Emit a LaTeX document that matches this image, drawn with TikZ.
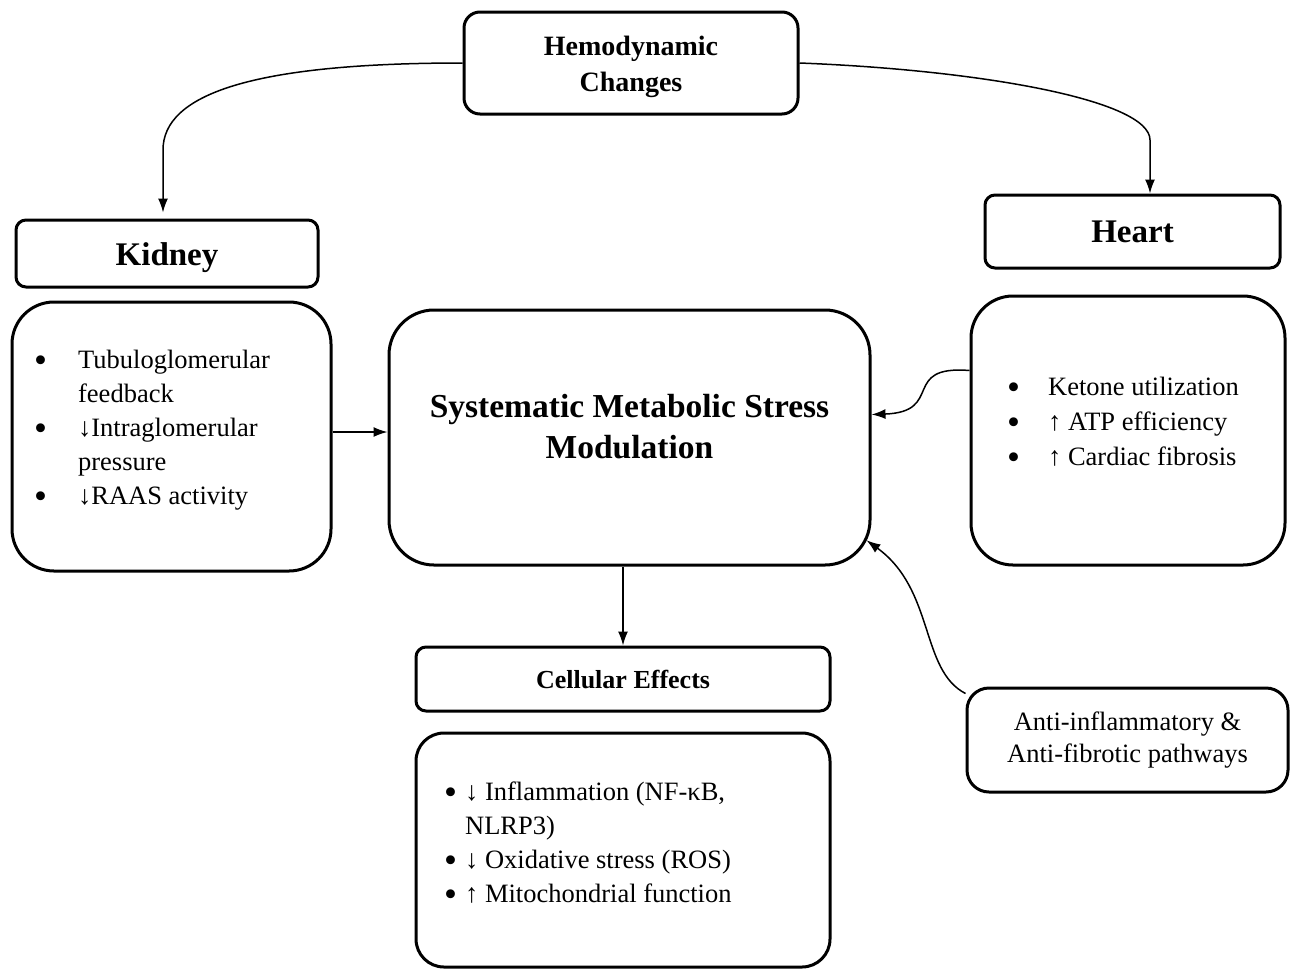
\documentclass[tikz,border=0pt]{standalone}
\usepackage{fontspec}
\setmainfont{Liberation Serif}
\usetikzlibrary{arrows.meta, positioning}
\tikzset{
  headbox/.style={draw, line width=3pt, rounded corners=10pt, align=center, inner sep=0pt},
  listbox/.style={draw, line width=3pt, rounded corners=42pt},
  flow/.style={-{Latex[length=14pt,width=10pt]}, line width=1.5pt},
  itemtxt/.style={anchor=base west, inner sep=0pt},
}
\newcommand{\bull}{\raisebox{-4pt}{\fontsize{37}{34}\selectfont•}}

\begin{document}
\begin{tikzpicture}[x=1pt,y=-1pt]
\useasboundingbox (0,0) rectangle (1290,970);
\node[headbox, rounded corners=16pt, minimum width=334pt, minimum height=102pt, text height=63pt, text depth=6pt, font=\bfseries\fontsize{28}{36}\selectfont] (hemo) at (631,63) {Hemodynamic\\Changes};
\node[headbox, minimum width=302pt, minimum height=67pt, text height=31pt, text depth=7pt, font=\bfseries\fontsize{33}{40}\selectfont] (kidney) at (167,253.5) {Kidney};
\node[headbox, minimum width=295pt, minimum height=73pt, font=\bfseries\fontsize{33}{40}\selectfont] (heart) at (1132.5,231.5) {Heart};
\node[listbox, minimum width=319pt, minimum height=269pt] (klist) at (171.5,436.5) {};
\node[listbox, rounded corners=45pt, minimum width=481pt, minimum height=255pt] (mid) at (629.5,437.5) {};
\node[listbox, minimum width=314pt, minimum height=269pt] (hlist) at (1128,430.5) {};
\node[headbox, minimum width=414pt, minimum height=64pt, font=\bfseries\fontsize{26}{30}\selectfont] (cell) at (623,679) {Cellular Effects};
\node[listbox, rounded corners=28pt, minimum width=414pt, minimum height=234pt] (clist) at (623,850) {};
\node[headbox, rounded corners=22pt, minimum width=321pt, minimum height=104pt, font=\fontsize{26.5}{32}\selectfont] (anti) at (1127.5,740) {Anti-inflammatory \&\\Anti-fibrotic pathways};

\node[itemtxt, font=\fontsize{26.5}{34}\selectfont] (ktxt) at (34,368) {\begin{tabular}[t]{@{}l@{\hspace{31pt}}l@{}}
\bull&Tubuloglomerular\\&feedback\\\bull&↓Intraglomerular\\&pressure\\\bull&↓RAAS activity\end{tabular}};
\node[font=\bfseries\fontsize{33.5}{41}\selectfont, align=center] (midtxt) at (629.5,427) {Systematic Metabolic Stress\\Modulation};
\node[itemtxt, font=\fontsize{26.5}{35}\selectfont] (htxt) at (1007,395) {\begin{tabular}[t]{@{}l@{\hspace{28pt}}l@{}}
\bull&Ketone utilization\\\bull&↑ ATP efficiency\\\bull&↑ Cardiac fibrosis\end{tabular}};
\node[itemtxt, font=\fontsize{26.5}{34}\selectfont] (ctxt) at (444,800) {\begin{tabular}[t]{@{}l@{\hspace{8pt}}l@{}}
\bull&↓ Inflammation (NF-κB,\\&NLRP3)\\\bull&↓ Oxidative stress (ROS)\\\bull&↑ Mitochondrial function\end{tabular}};

\coordinate (kbend) at (163,150);
\coordinate (hbend) at (1150,140);
\draw[flow, shorten >=6pt] (hemo.west) .. controls (250,63) and (163,95) .. (kbend) -- (kbend |- kidney.north);
\draw[flow] (hemo.east) .. controls (980,70) and (1150,100) .. (hbend) -- (hbend |- heart.north);
\draw[flow] ([yshift=4.5pt]klist.east) -- ([yshift=4.5pt]klist.east -| mid.west);
\draw[flow] ([yshift=60pt]hlist.west) .. controls (900,365) and (945,412) .. ([yshift=23pt]mid.east);
\draw[flow] (mid.south -| cell.north) -- (cell.north);
\draw[flow] ([yshift=-7pt]anti.north west) .. controls (920,670) and (935,590) .. ([xshift=-5pt]mid.-23);
\end{tikzpicture}
\end{document}
